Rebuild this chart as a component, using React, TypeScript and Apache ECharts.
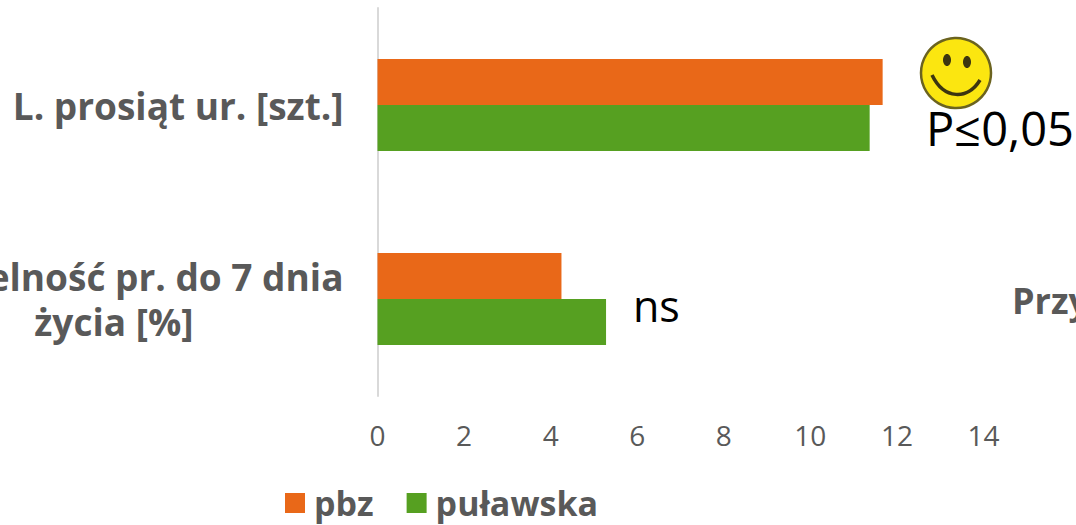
import React, { useEffect, useRef } from "react";
import * as echarts from "echarts";

const categories = ["L. prosiąt ur. [szt.]", "Śmiertelność pr. do 7 dnia\nżycia [%]"];
const pbz = [11.67, 4.25];
const pulawska = [11.37, 5.28];
const FONT = "Open Sans";
const GREY = "#595959";

export default function App() {
  const ref = useRef<HTMLDivElement>(null);
  useEffect(() => {
    const chart = echarts.init(ref.current!, null, { renderer: "svg" });
    const labelStyle = { fontSize: 37, lineHeight: 45, fontWeight: "bold", color: GREY, fontFamily: FONT };
    chart.setOption({
      animation: false,
      backgroundColor: "#ffffff",
      textStyle: { fontFamily: FONT },
      grid: { left: 377.5, top: 8, width: 606, height: 388, containLabel: false, outerBoundsMode: "none" },
      legend: {
        left: 280,
        top: 481,
        itemWidth: 20,
        itemHeight: 20,
        itemGap: 33,
        icon: "rect",
        textStyle: { fontSize: 34, lineHeight: 34, fontWeight: "bold", color: GREY, fontFamily: FONT, padding: [0, 0, 0, 4] },
        data: ["pbz", "puławska"],
      },
      xAxis: {
        type: "value",
        min: 0,
        max: 14,
        interval: 2,
        axisLine: { show: false },
        axisTick: { show: false },
        splitLine: { show: false },
        axisLabel: { fontSize: 28, color: GREY, fontFamily: FONT, margin: 25 },
      },
      yAxis: {
        type: "category",
        inverse: true,
        data: categories,
        axisLine: { show: true, lineStyle: { color: "#d9d9d9", width: 2 } },
        axisTick: { show: false },
        axisLabel: {
          margin: 34,
          align: "right",
          formatter: (v: string) =>
            v.split("\n").map((line, i) => (i === 0 ? `{r|${line}}` : `{d|${line}}`)).join("\n"),
          rich: {
            r: labelStyle,
            d: { ...labelStyle, align: "right", padding: [0, 150, 0, 0] },
          },
        },
      },
      series: [
        { name: "pbz", type: "bar", data: pbz, barWidth: 46, barGap: "0%", itemStyle: { color: "#e96818" } },
        { name: "puławska", type: "bar", data: pulawska, barWidth: 46, itemStyle: { color: "#56a021" } },
      ],
      graphic: [
        {
          type: "group",
          x: 956,
          y: 73,
          children: [
            { type: "circle", shape: { cx: 0, cy: 0, r: 35 }, style: { fill: "#fbe610", stroke: "#6b6320", lineWidth: 2.5 } },
            { type: "ellipse", shape: { cx: -9, cy: -13, rx: 4, ry: 6 }, style: { fill: "#3c3510" } },
            { type: "ellipse", shape: { cx: 11, cy: -11, rx: 4, ry: 6 }, style: { fill: "#3c3510" } },
            {
              type: "bezierCurve",
              shape: { x1: -24, y1: 2, cpx1: -12, cpy1: 27, cpx2: 12, cpy2: 27, x2: 24, y2: 7 },
              style: { fill: "none", stroke: "#3c3510", lineWidth: 3.5 },
            },
          ],
        },
        { type: "text", x: 926, y: 104, style: { text: "P≤0,05", font: `47px '${FONT}'`, fill: "#000" } },
        { type: "text", x: 633, y: 284, style: { text: "ns", font: `43px '${FONT}'`, fill: "#000" } },
        { type: "text", x: 1012, y: 282, style: { text: "Przy", font: `bold 36px '${FONT}'`, fill: GREY } },
      ],
    });
    return () => chart.dispose();
  }, []);
  return <div ref={ref} style={{ position: "fixed", left: 0, top: 0, width: 1076, height: 525 }} />;
}
